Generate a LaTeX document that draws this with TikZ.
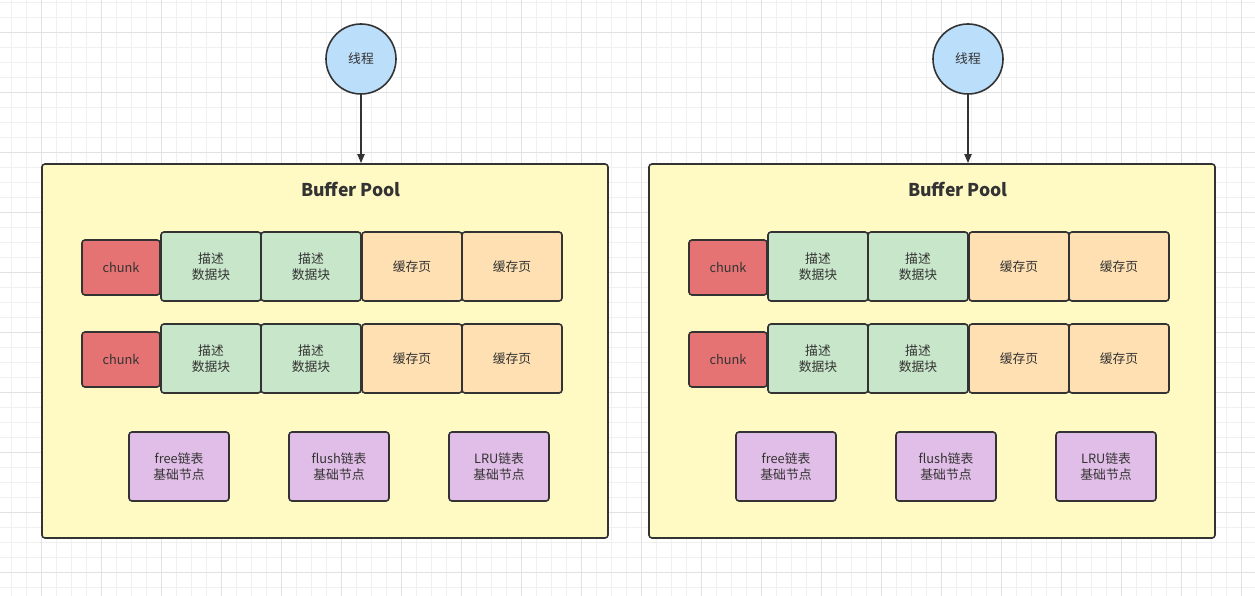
\documentclass[tikz,border=0pt]{standalone}
\usepackage{fontspec}
\setmainfont{Noto Sans CJK SC}
\usetikzlibrary{arrows.meta}

\definecolor{gridminor}{HTML}{F0F0F0}
\definecolor{gridmajor}{HTML}{E2E2E2}
\definecolor{inkdark}{HTML}{333333}
\definecolor{poolyellow}{HTML}{FFF9C4}
\definecolor{threadblue}{HTML}{BBDEFB}
\definecolor{chunkred}{HTML}{E57373}
\definecolor{descgreen}{HTML}{C8E6C9}
\definecolor{pageorange}{HTML}{FFE0B2}
\definecolor{listpurple}{HTML}{E1BEE7}

\begin{document}
\begin{tikzpicture}[x=1pt,y=-1pt,
  box/.style={draw=inkdark, line width=1.6pt, rounded corners=3pt, inner sep=0pt,
    align=center, text=inkdark, font=\fontsize{12.8}{16}\selectfont},
  chunkbox/.style={box, fill=chunkred, minimum width=78pt, minimum height=55pt},
  descbox/.style={box, fill=descgreen, minimum width=100pt, minimum height=69pt},
  pagebox/.style={box, fill=pageorange, minimum width=100pt, minimum height=69pt},
  listbox/.style={box, fill=listpurple, minimum width=100pt, minimum height=69pt},
  poolbox/.style={box, fill=poolyellow, minimum width=566pt, minimum height=374pt},
  threadnode/.style={circle, draw=inkdark, line width=1.6pt, fill=threadblue,
    minimum size=70pt, inner sep=0pt, text=inkdark, font=\fontsize{12.8}{16}\selectfont}]
\useasboundingbox (0,0) rectangle (1255,596);
\fill[white] (0,0) rectangle (1255,596);

% background grid
\foreach \gx in {11.5,26.5,...,1255} \draw[gridminor, line width=1pt] (\gx,0) -- (\gx,596);
\foreach \gy in {2.5,17.5,...,596} \draw[gridminor, line width=1pt] (0,\gy) -- (1255,\gy);
\foreach \gx in {41.5,101.5,...,1255} \draw[gridmajor, line width=1pt] (\gx,0) -- (\gx,596);
\foreach \gy in {32.5,92.5,...,596} \draw[gridmajor, line width=1pt] (0,\gy) -- (1255,\gy);

% two buffer pools, one thread each
\foreach \p/\dx in {a/0, b/607} {
  \node[threadnode] (thread\p) at (361+\dx,59) {线程};
  \node[poolbox] (pool\p) at (325+\dx,351) {};
  \node[font=\fontsize{17.6}{20}\selectfont\bfseries, text=inkdark] (title\p) at (351+\dx,189) {Buffer Pool};
  \draw[-{Triangle[length=9pt,width=7pt]}, line width=1.8pt, inkdark]
    (thread\p.south) -- (thread\p.south |- pool\p.north);

  \foreach \r/\dy in {1/0, 2/92} {
    \node[chunkbox] (chunk\p\r) at (121+\dx,267.5+\dy) {chunk};
    \node[descbox] (descx\p\r) at (211+\dx,266.5+\dy) {描述\\数据块};
    \node[descbox] (descy\p\r) at (311+\dx,266.5+\dy) {描述\\数据块};
    \node[pagebox] (pagex\p\r) at (412+\dx,266.5+\dy) {缓存页};
    \node[pagebox] (pagey\p\r) at (512+\dx,266.5+\dy) {缓存页};
  }

  \node[listbox] (free\p) at (179+\dx,466.5) {free链表\\基础节点};
  \node[listbox] (flush\p) at (339+\dx,466.5) {flush链表\\基础节点};
  \node[listbox] (lru\p) at (499+\dx,466.5) {LRU链表\\基础节点};
}
\end{tikzpicture}
\end{document}
